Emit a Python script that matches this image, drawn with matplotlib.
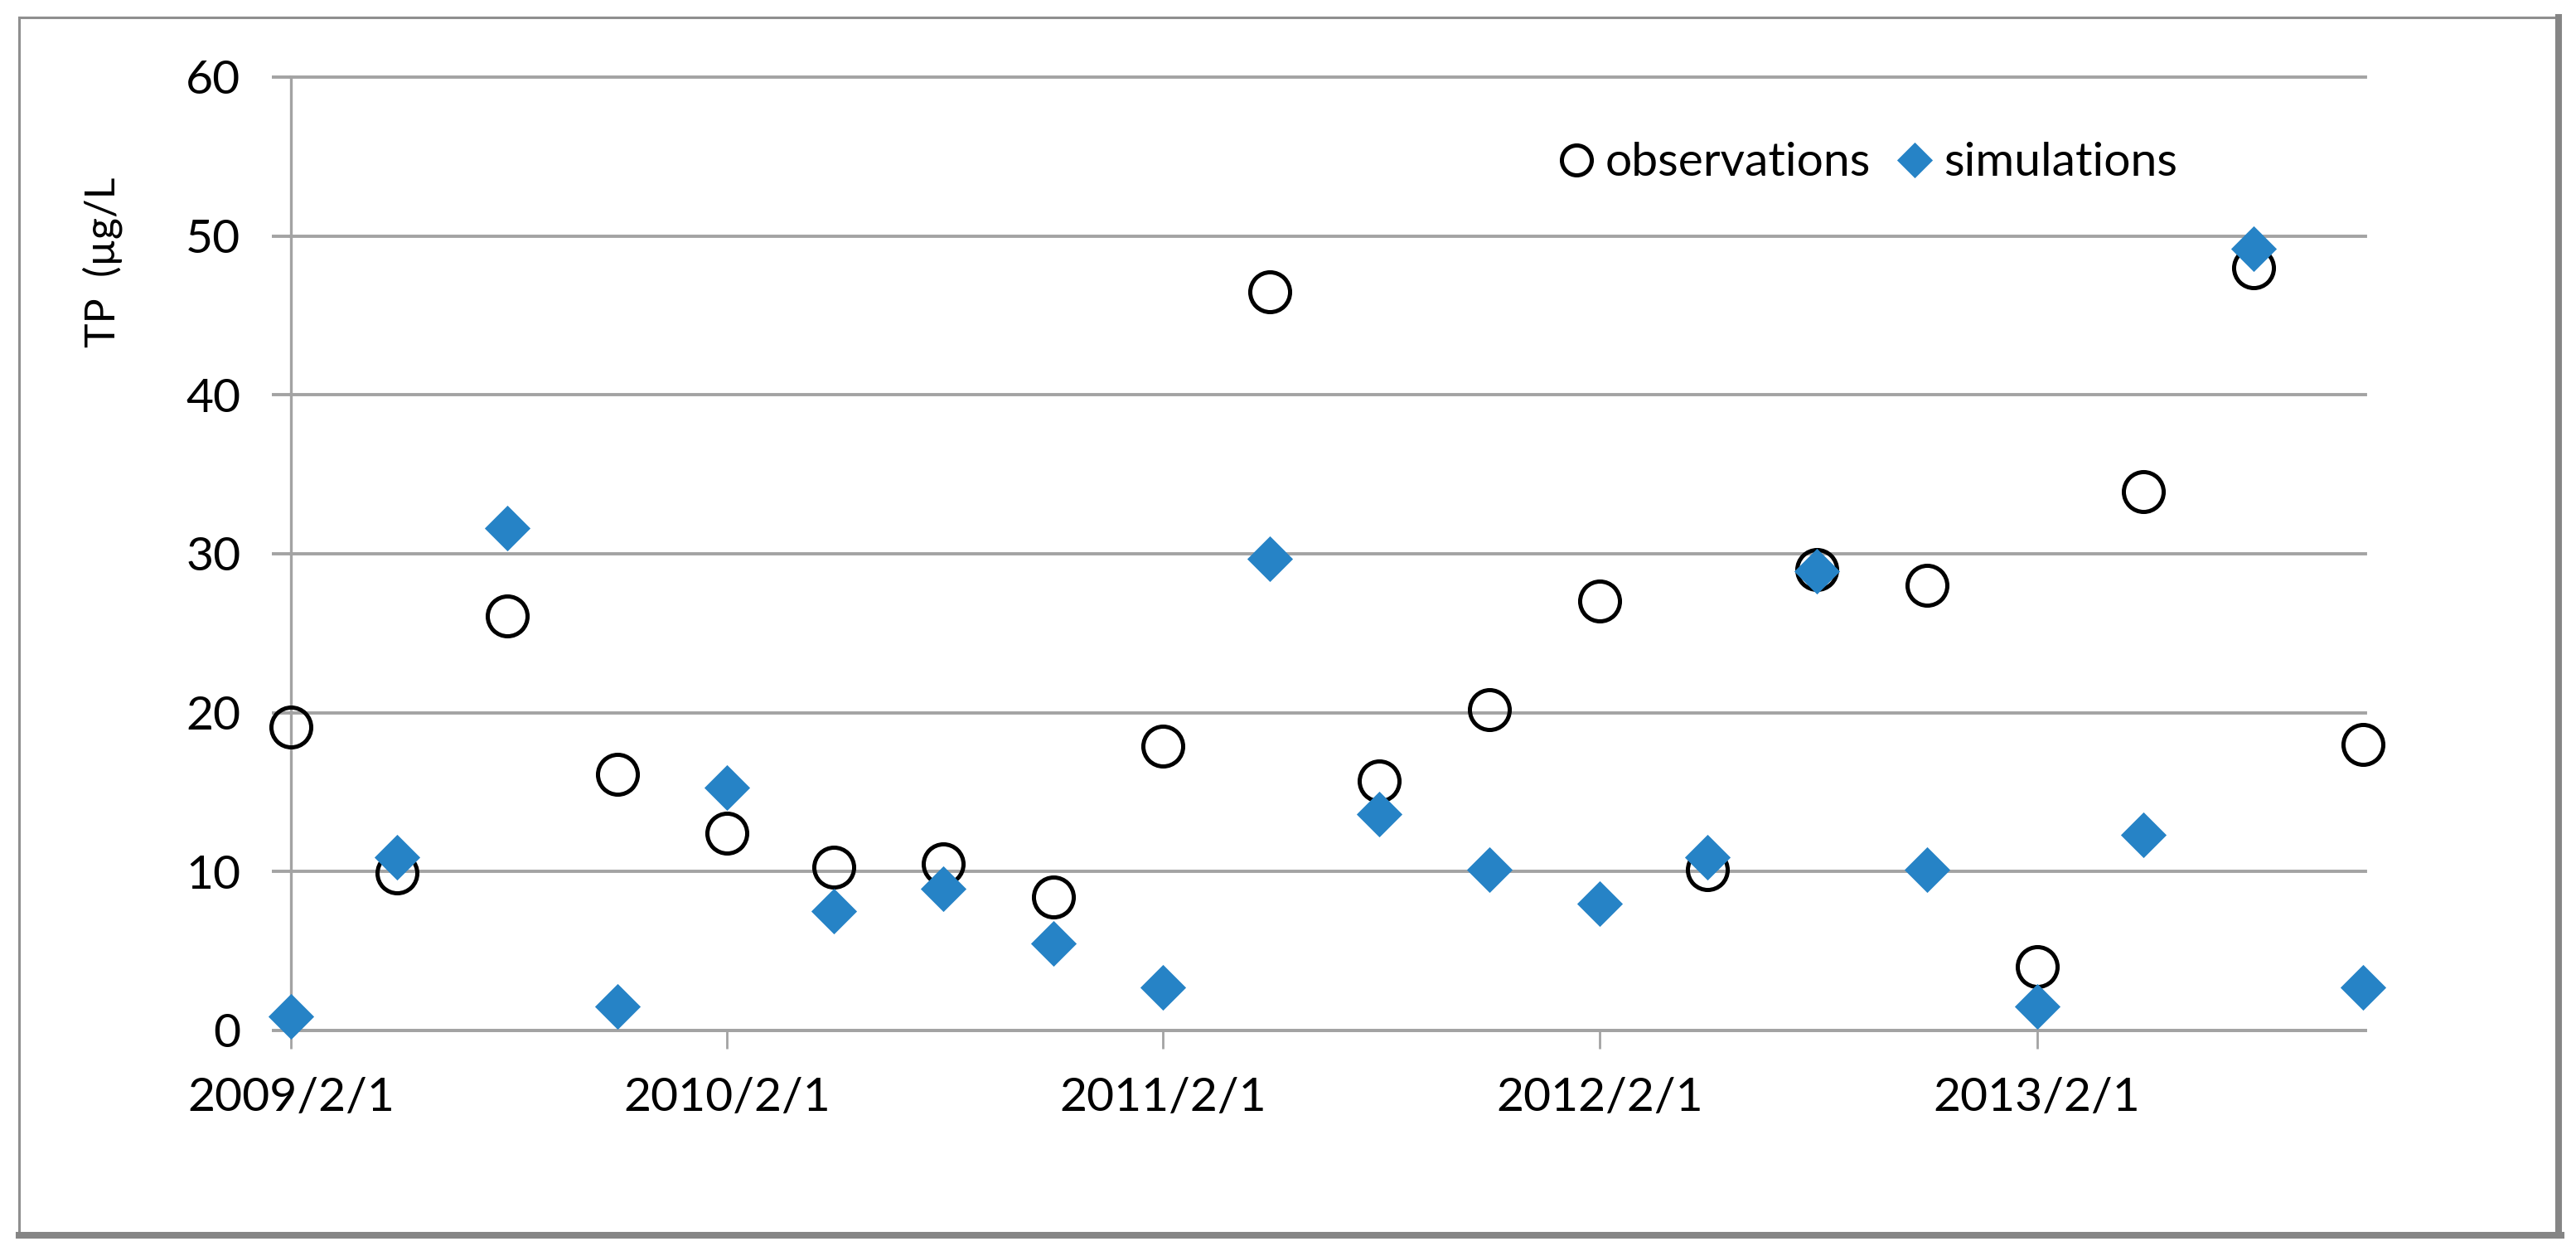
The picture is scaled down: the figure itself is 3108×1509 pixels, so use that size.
import matplotlib
matplotlib.use('Agg')
import matplotlib.pyplot as plt
import matplotlib.dates as mdates
from matplotlib.lines import Line2D
import datetime as dt

plt.rcParams['font.family'] = ['Lato', 'DejaVu Sans']

dates = ['2009-02-01', '2009-05-01', '2009-08-01', '2009-11-01',
         '2010-02-01', '2010-05-01', '2010-08-01', '2010-11-01',
         '2011-02-01', '2011-05-01', '2011-08-01', '2011-11-01',
         '2012-02-01', '2012-05-01', '2012-08-01', '2012-11-01',
         '2013-02-01', '2013-05-01', '2013-08-01', '2013-11-01']
observations = [19.1, 9.9, 26.1, 16.1, 12.4, 10.3, 10.5, 8.4, 17.9, 46.5,
                15.7, 20.2, 27.0, 10.1, 29.0, 28.0, 4.0, 33.9, 48.0, 18.0]
simulations = [0.9, 10.9, 31.6, 1.5, 15.3, 7.5, 8.9, 5.5, 2.7, 29.7,
               13.6, 10.1, 8.0, 10.9, 28.9, 10.1, 1.5, 12.3, 49.2, 2.7]
y_ticks = [0, 10, 20, 30, 40, 50, 60]

x = [dt.datetime.strptime(d, '%Y-%m-%d') for d in dates]

grey = '#a3a3a3'
blue = '#2683c6'

fig = plt.figure(figsize=(15.54, 7.545), dpi=200)
ax = fig.add_axes([0.1129, 0.1763, 0.8054, 0.7621])

ax.plot(x, observations, linestyle='none', marker='o', markersize=17.3,
        markerfacecolor='none', markeredgecolor='black', markeredgewidth=1.8,
        label='observations', zorder=3, clip_on=False)
ax.plot(x, simulations, linestyle='none', marker='D', markersize=14,
        markerfacecolor=blue, markeredgecolor=blue, markeredgewidth=0.3,
        label='simulations', zorder=4, clip_on=False)

ax.set_ylim(0, 60)
ax.set_yticks(y_ticks)
ax.set_xlim(dt.datetime(2009, 2, 1), dt.datetime(2013, 11, 3))
ax.xaxis.set_major_locator(mdates.MonthLocator(bymonth=2, bymonthday=1))
ax.xaxis.set_major_formatter(plt.FuncFormatter(
    lambda v, p: '{0.year}/{0.month}/{0.day}'.format(mdates.num2date(v))))

ax.grid(axis='y', color=grey, linewidth=1.4)
for gl in ax.get_ygridlines():
    gl.set_clip_on(False)
ax.set_axisbelow(True)
for s in ['top', 'right']:
    ax.spines[s].set_visible(False)
ax.spines['left'].set_color(grey)
ax.spines['left'].set_linewidth(1.2)
ax.spines['bottom'].set_color(grey)
ax.spines['bottom'].set_linewidth(1.4)

ax.tick_params(axis='y', direction='out', length=8.3, width=1.4, color=grey,
               labelsize=20.5, pad=13.5, labelcolor='black')
ax.tick_params(axis='x', direction='out', length=8, width=1.0, color=grey,
               labelsize=20.5, pad=12, labelcolor='black')

fig.text(124 / 3108, 1 - 316 / 1509, 'TP  (\u00b5g/L', rotation=90,
         ha='center', va='center', fontsize=18)

ax.legend(loc='center left', bbox_to_anchor=(1882 / 3108, 1 - 197 / 1509),
          bbox_transform=fig.transFigure, ncol=2, frameon=False,
          fontsize=20.5, markerscale=0.75, handlelength=0.7,
          handletextpad=0.26, columnspacing=0.58, borderpad=0,
          borderaxespad=0)

# outer frame of the chart area
W, H = 3108.0, 1509.0
fig.add_artist(Line2D([23 / W, 23 / W], [1 - 21 / H, 1 - 1490 / H],
                      color='#8f8f8f', linewidth=1.1, transform=fig.transFigure))
fig.add_artist(Line2D([23 / W, 3087 / W], [1 - 21 / H, 1 - 21 / H],
                      color='#8f8f8f', linewidth=1.1, transform=fig.transFigure))
fig.add_artist(Line2D([3087 / W, 3087 / W], [1 - 21 / H, 1 - 1490 / H],
                      color='#858585', linewidth=2.9, transform=fig.transFigure))
fig.add_artist(Line2D([23 / W, 3090 / W], [1 - 1490 / H, 1 - 1490 / H],
                      color='#858585', linewidth=2.9, transform=fig.transFigure))

fig.savefig('out.png', dpi=200)
